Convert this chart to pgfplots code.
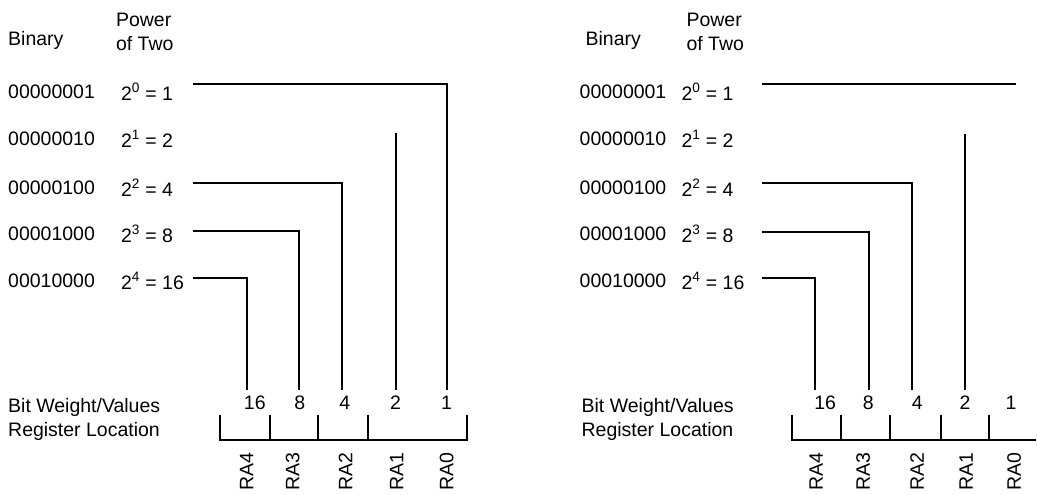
\documentclass[border=0pt]{standalone}
\usepackage{pgfplots}
\pgfplotsset{compat=1.18}
\usepackage{fontspec}
\setmainfont{Liberation Sans}

\tikzset{t/.style={font=\fontsize{19.5bp}{22bp}\selectfont, inner sep=0pt}}

\begin{document}
\begin{tikzpicture}
\begin{axis}[
    scale only axis,
    width=1037bp, height=495bp,
    xmin=0, xmax=1037, ymin=0, ymax=495,
    y dir=reverse,
    hide axis,
    clip=false,
    every axis plot/.append style={line width=1.9bp},
]
% frame for the bounding box
\addplot[draw=none] coordinates {(0,0) (1037,495)};

% ---------- left panel ----------
\addplot[black] coordinates {(193,84) (447,84) (447,390)};
\addplot[black] coordinates {(396,133) (396,390)};
\addplot[black] coordinates {(193,183) (342,183) (342,390)};
\addplot[black] coordinates {(193,231) (299,231) (299,390)};
\addplot[black] coordinates {(193,278) (247,278) (247,390)};
% register bracket
\addplot[black] coordinates {(220,415) (220,440) (467,440) (467,415)};
\addplot[black] coordinates {(270,415) (270,440)};
\addplot[black] coordinates {(318,415) (318,440)};
\addplot[black] coordinates {(368,415) (368,440)};

\node[t, anchor=west] at (axis cs:8,41) {Binary};
\node[t, anchor=west] at (axis cs:116,20) {Power};
\node[t, anchor=west] at (axis cs:116,44) {of Two};
\node[t, anchor=west] at (axis cs:8,92) {00000001};
\node[t, anchor=west] at (axis cs:8,139) {00000010};
\node[t, anchor=west] at (axis cs:8,188) {00000100};
\node[t, anchor=west] at (axis cs:8,234) {00001000};
\node[t, anchor=west] at (axis cs:8,281) {00010000};
\node[t, anchor=west] at (axis cs:121,92) {2\textsuperscript{0} = 1};
\node[t, anchor=west] at (axis cs:121,139) {2\textsuperscript{1} = 2};
\node[t, anchor=west] at (axis cs:121,188) {2\textsuperscript{2} = 4};
\node[t, anchor=west] at (axis cs:121,234) {2\textsuperscript{3} = 8};
\node[t, anchor=west] at (axis cs:121,281) {2\textsuperscript{4} = 16};
\node[t] at (axis cs:255,403) {16};
\node[t] at (axis cs:300,403) {8};
\node[t] at (axis cs:345,403) {4};
\node[t] at (axis cs:396,403) {2};
\node[t] at (axis cs:447,403) {1};
\node[t, anchor=west] at (axis cs:8,408) {Bit Weight/Values};
\node[t, anchor=west] at (axis cs:8,432) {Register Location};
\node[t, rotate=90] at (axis cs:247,472) {RA4};
\node[t, rotate=90] at (axis cs:293,472) {RA3};
\node[t, rotate=90] at (axis cs:346,472) {RA2};
\node[t, rotate=90] at (axis cs:397,472) {RA1};
\node[t, rotate=90] at (axis cs:447,472) {RA0};

% ---------- right panel ----------
\addplot[black] coordinates {(763,84) (1017,84)};
\addplot[black] coordinates {(966,134) (966,390)};
\addplot[black] coordinates {(763,183) (913,183) (913,390)};
\addplot[black] coordinates {(763,232) (870,232) (870,390)};
\addplot[black] coordinates {(763,278) (816,278) (816,390)};
% register bracket
\addplot[black] coordinates {(793,415) (793,440) (1037,440)};
\addplot[black] coordinates {(842,415) (842,440)};
\addplot[black] coordinates {(891,415) (891,440)};
\addplot[black] coordinates {(942,415) (942,440)};
\addplot[black] coordinates {(990,415) (990,440)};

\node[t, anchor=west] at (axis cs:586,41) {Binary};
\node[t, anchor=west] at (axis cs:687,20) {Power};
\node[t, anchor=west] at (axis cs:687,44) {of Two};
\node[t, anchor=west] at (axis cs:580,92) {00000001};
\node[t, anchor=west] at (axis cs:580,139) {00000010};
\node[t, anchor=west] at (axis cs:580,188) {00000100};
\node[t, anchor=west] at (axis cs:580,234) {00001000};
\node[t, anchor=west] at (axis cs:580,281) {00010000};
\node[t, anchor=west] at (axis cs:682,92) {2\textsuperscript{0} = 1};
\node[t, anchor=west] at (axis cs:682,139) {2\textsuperscript{1} = 2};
\node[t, anchor=west] at (axis cs:682,188) {2\textsuperscript{2} = 4};
\node[t, anchor=west] at (axis cs:682,234) {2\textsuperscript{3} = 8};
\node[t, anchor=west] at (axis cs:682,281) {2\textsuperscript{4} = 16};
\node[t] at (axis cs:826,403) {16};
\node[t] at (axis cs:869,403) {8};
\node[t] at (axis cs:918,403) {4};
\node[t] at (axis cs:966,403) {2};
\node[t] at (axis cs:1012,403) {1};
\node[t, anchor=west] at (axis cs:582,408) {Bit Weight/Values};
\node[t, anchor=west] at (axis cs:582,432) {Register Location};
\node[t, rotate=90] at (axis cs:817,472) {RA4};
\node[t, rotate=90] at (axis cs:864,472) {RA3};
\node[t, rotate=90] at (axis cs:918,472) {RA2};
\node[t, rotate=90] at (axis cs:967,472) {RA1};
\node[t, rotate=90] at (axis cs:1015,472) {RA0};
\end{axis}
\end{tikzpicture}
\end{document}
